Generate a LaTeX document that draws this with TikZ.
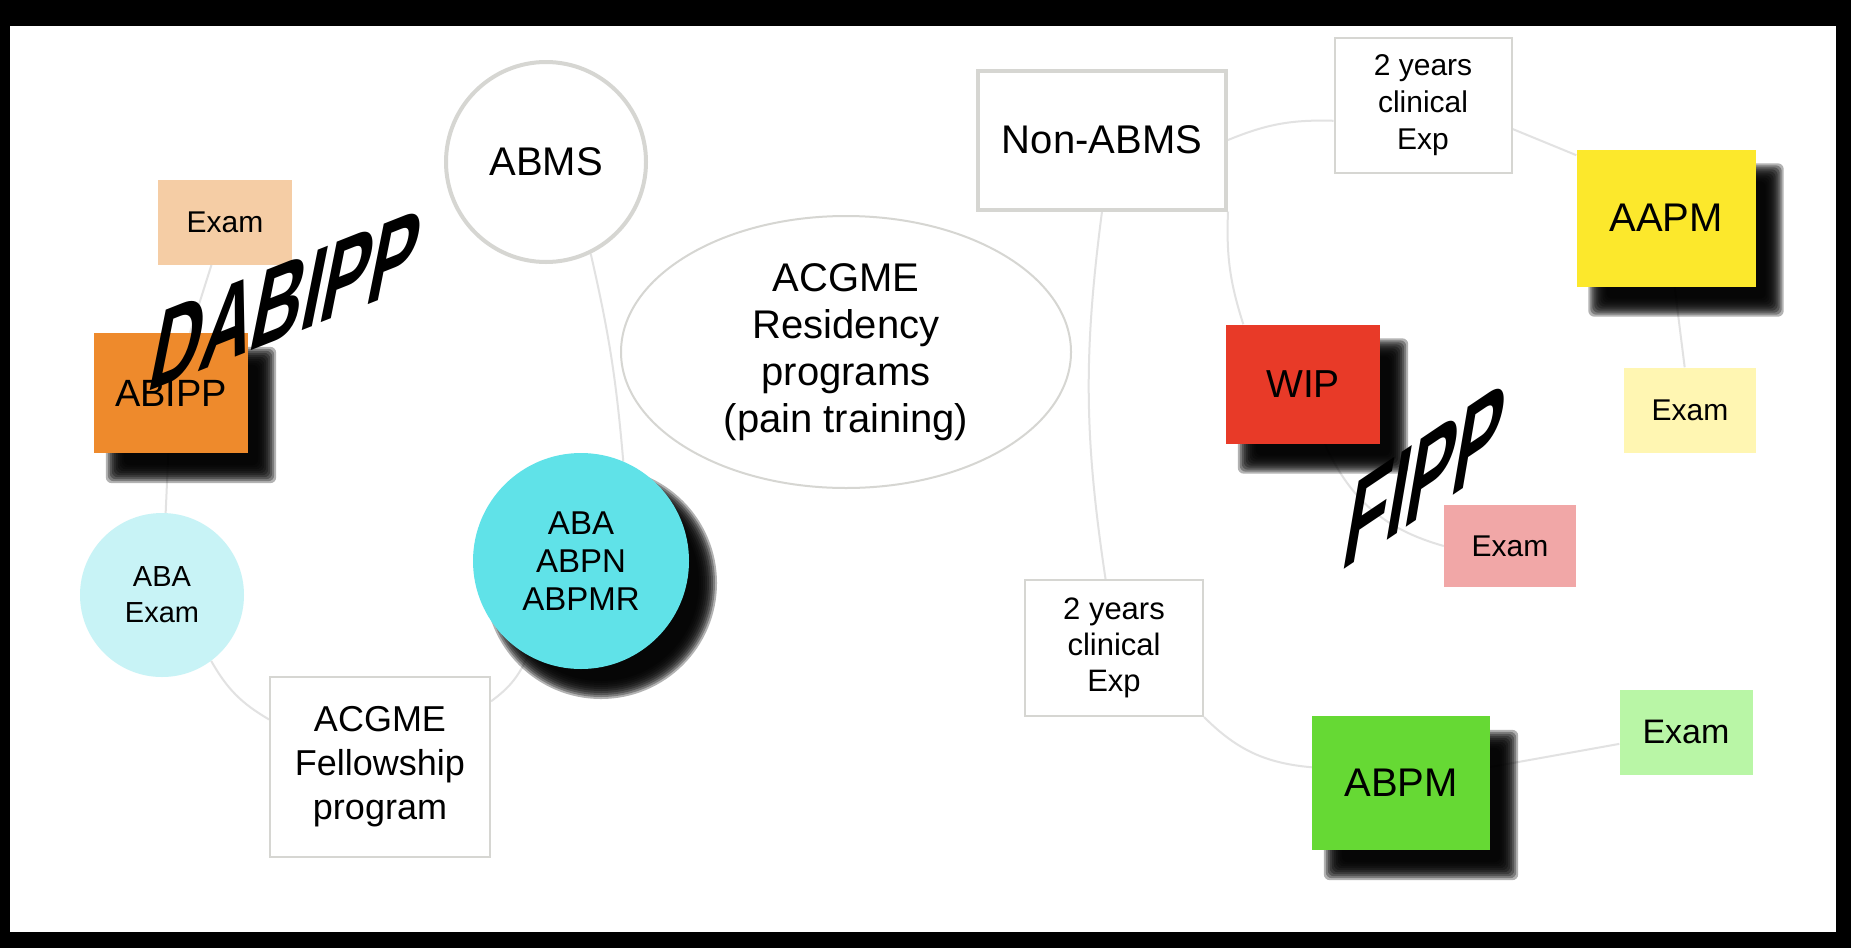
\documentclass[tikz,border=0pt]{standalone}
\usepackage{fontspec}
\setmainfont{Liberation Sans}
\usetikzlibrary{shapes.geometric,calc}
\definecolor{examtan}{HTML}{F5CDA5}
\definecolor{abippor}{HTML}{EE8A2C}
\definecolor{abaexcy}{HTML}{C8F3F6}
\definecolor{abacy}{HTML}{60E2E8}
\definecolor{aapmyl}{HTML}{FCE82C}
\definecolor{examyl}{HTML}{FFF6B2}
\definecolor{wipred}{HTML}{E83A28}
\definecolor{exampk}{HTML}{F1A7A7}
\definecolor{abpmgr}{HTML}{66D934}
\definecolor{examgr}{HTML}{B9F6A6}
\definecolor{rimgray}{HTML}{D6D6D2}
\definecolor{linkgray}{HTML}{E2E2E2}
\pgfdeclarelayer{bgframe}
\pgfdeclarelayer{linklayer}
\pgfdeclarelayer{shadelayer}
\pgfsetlayers{bgframe,linklayer,shadelayer,main}
\newcommand\boxshade[1]{\foreach \k in {0,...,9}
  \fill[black, opacity=0.3, rounded corners=6pt] ($(#1.south west)+({30-2*\k},{-12-2*\k})$)
    rectangle ($(#1.north east)+({10+2*\k},{-32+2*\k})$);}
\newcommand\ringshade[2]{\foreach \k in {0,...,9}
  \fill[black, opacity=0.3] ($(#1.center)+(20,-22)$) circle ({#2-10+2*\k});}

\begin{document}
\begin{tikzpicture}[x=1pt,y=1pt,
    fs/.style 2 args={font=\fontsize{#1}{#2}\selectfont},
    card/.style={rectangle, inner sep=0pt, align=center},
    ring/.style={circle, inner sep=0pt, align=center},
    rim/.style={draw=rimgray, line width=2pt},
    link/.style={draw=linkgray, line width=2pt},
    wordart/.style={font=\bfseries\fontsize{#1}{#1}\selectfont, inner sep=0pt}
  ]
  \begin{pgfonlayer}{bgframe}
    \fill[black] (0,0) rectangle (1851,-948);
    \fill[white] (10,-26) rectangle (1836,-932);
  \end{pgfonlayer}

  \node[ring, rim, line width=4pt, minimum size=200pt, fs={40}{44}] (abms) at (546,-162) {ABMS};
  \node[ellipse, rim, inner sep=0pt, minimum width=450pt, minimum height=272pt, align=center,
    fs={40}{47}] (resid) at (846,-352) {ACGME\\Residency\\programs\\(pain training)};
  \node[card, fill=examtan, minimum width=134pt, minimum height=85pt, fs={30}{33}] (examA) at (225,-222) {Exam};
  \node[card, fill=abippor, minimum width=154pt, minimum height=120pt, fs={38}{42}] (abipp) at (171,-393) {ABIPP};
  \node[ring, fill=abaexcy, minimum size=164pt, fs={29}{36}] (abaexam) at (162,-595) {ABA\\Exam};
  \node[card, rim, fill=white, minimum width=220pt, minimum height=180pt, fs={36}{44}] (fellow) at (380,-767)
    {ACGME\\Fellowship\\program};
  \node[ring, fill=abacy, minimum size=216pt, fs={33}{38}] (abacirc) at (581,-561) {ABA\\ABPN\\ABPMR};

  \node[card, rim, line width=4pt, fill=white, minimum width=248pt, minimum height=139pt, fs={40}{44}] (nonabms)
    at (1102,-140) {Non-ABMS};
  \node[card, rim, fill=white, minimum width=177pt, minimum height=135pt, fs={30}{37}] (twoyrsA) at (1423,-105)
    {2 years\\clinical\\Exp};
  \node[card, fill=aapmyl, minimum width=179pt, minimum height=137pt, fs={40}{44}] (aapm) at (1666,-218) {AAPM};
  \node[card, fill=examyl, minimum width=132pt, minimum height=85pt, fs={30}{33}] (examY) at (1690,-410) {Exam};
  \node[card, fill=wipred, minimum width=154pt, minimum height=119pt, fs={39}{43}] (wip) at (1303,-384) {WIP};
  \node[card, fill=exampk, minimum width=132pt, minimum height=82pt, fs={30}{33}] (examP) at (1510,-546) {Exam};
  \node[card, rim, fill=white, minimum width=178pt, minimum height=136pt, fs={31}{36}] (twoyrsB) at (1114,-648)
    {2 years\\clinical\\Exp};
  \node[card, fill=abpmgr, minimum width=178pt, minimum height=134pt, fs={40}{44}] (abpm) at (1401,-783) {ABPM};
  \node[card, fill=examgr, minimum width=133pt, minimum height=85pt, fs={34}{37}] (examG) at (1686,-732) {Exam};

  \node[wordart=117, cm={0.6,0.237,0.2,1,(0,0)}] (dabipp) at (286,-300) {DABIPP};
  \node[wordart=128, cm={0.55,0.37,0.17,1,(0,0)}] (fipp) at (1425,-476) {FIPP};

  \begin{pgfonlayer}{shadelayer}
    \boxshade{abipp}
    \boxshade{aapm}
    \boxshade{wip}
    \boxshade{abpm}
    \ringshade{abacirc}{108}
  \end{pgfonlayer}

  \begin{pgfonlayer}{linklayer}
    \draw[link] (examA) -- (abipp);
    \draw[link] (abipp) -- (abaexam);
    \draw[link] (abaexam) to[bend right=15] (fellow);
    \draw[link] (fellow) to[bend right=15] (abacirc);
    \draw[link] (abms.-64) to[bend left=4] (abacirc.67);
    \draw[link] (nonabms.south) to[bend right=8] (twoyrsB.97);
    \draw[link] (nonabms.south east) to[bend right=10] (wip.135);
    \draw[link] (nonabms.east) to[bend left=12] (twoyrsA.190);
    \draw[link] (twoyrsA.-15) -- (aapm.145);
    \draw[link] (aapm) -- (examY);
    \draw[link] (wip.-70) to[bend right=25] (examP.west);
    \draw[link] (twoyrsB.south east) to[bend right=20] (abpm.170);
    \draw[link] (abpm) -- (examG);
  \end{pgfonlayer}
\end{tikzpicture}
\end{document}
